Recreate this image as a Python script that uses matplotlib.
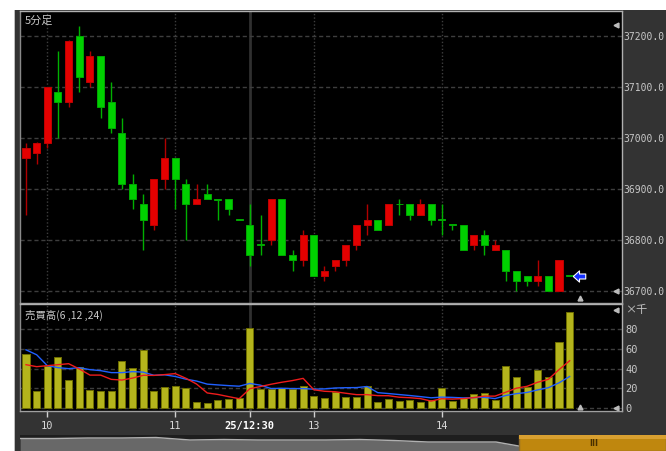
import matplotlib
matplotlib.use('Agg')
import matplotlib.pyplot as plt
from matplotlib.patches import Rectangle
import numpy as np

W, H = 666, 451

# ---- data (5-minute candles) ----
opens = [36960, 36970, 36990, 37090, 37070, 37200, 37110, 37160, 37070, 37010,
         36910, 36870, 36830, 36920, 36960, 36910, 36870, 36890, 36880, 36880,
         36840, 36830, 36792, 36800, 36880, 36770, 36760, 36810, 36730, 36750,
         36760, 36790, 36830, 36840, 36830, 36871, 36870, 36850, 36870, 36840,
         36830, 36830, 36790, 36810, 36780, 36780, 36740, 36730, 36720, 36730,
         36700, 36730]
highs = [36990, 36992, 37100, 37170, 37192, 37220, 37170, 37160, 37110, 37040,
         36930, 36890, 36920, 37000, 36960, 36920, 36910, 36910, 36880, 36880,
         36840, 36870, 36850, 36880, 36880, 36780, 36820, 36810, 36750, 36760,
         36790, 36830, 36870, 36840, 36870, 36880, 36870, 36880, 36870, 36870,
         36830, 36830, 36810, 36820, 36800, 36780, 36740, 36730, 36760, 36730,
         36760, 36730]
lows = [36850, 36950, 36980, 37000, 37060, 37090, 37100, 37040, 37010, 36900,
        36860, 36780, 36820, 36900, 36860, 36800, 36870, 36880, 36840, 36850,
        36840, 36750, 36770, 36790, 36770, 36740, 36750, 36730, 36720, 36740,
        36750, 36780, 36810, 36820, 36830, 36850, 36840, 36850, 36830, 36810,
        36820, 36780, 36780, 36770, 36780, 36720, 36700, 36710, 36710, 36700,
        36700, 36730]
closes = [36980, 36990, 37100, 37070, 37190, 37120, 37160, 37060, 37020, 36910,
          36880, 36840, 36920, 36960, 36920, 36870, 36880, 36880, 36879, 36860,
          36839, 36770, 36790, 36880, 36770, 36760, 36810, 36730, 36740, 36760,
          36790, 36830, 36840, 36820, 36870, 36870, 36850, 36870, 36840, 36839,
          36829, 36780, 36810, 36790, 36790, 36740, 36720, 36720, 36730, 36700,
          36760, 36730]
volumes = [55, 17, 43, 52, 29, 42, 18, 17, 17, 48,
           41, 59, 17, 22, 23, 20, 6, 5, 8, 9,
           10, 81, 19, 19, 20, 19, 23, 12, 10, 16,
           11, 11, 23, 6, 9, 7, 8, 6, 8, 20,
           7, 10, 14, 15, 8, 43, 32, 21, 39, 32,
           67, 97]
ma6 = [44, 42, 43, 44, 45, 39.7, 33.5, 33.5, 29.2, 28.5, 30.5, 33.3, 33.2, 34, 35,
       30.3, 24.5, 15.5, 14, 11.8, 9.7, 19.8, 22, 24.3, 26.3, 28, 30.2, 18.7, 17.2,
       16.7, 15.2, 13.8, 13.8, 12.8, 12.7, 11.2, 10.7, 9.8, 7.3, 9.7, 9.3, 9.8, 10.8,
       12.3, 12.3, 16.2, 20.3, 22.2, 26.3, 29.2, 39, 48]
ma12 = [59, 54, 43, 41, 40, 41, 39, 38, 36, 36, 37,
        36.5, 33.3, 33.8, 32.1, 29.4, 27.5, 24.4, 23.6, 22.9, 22.3,
        25.1, 23.3, 19.9, 20.2, 19.9, 19.9, 19.3, 19.6, 20.5, 20.8,
        20.9, 22, 15.8, 14.9, 13.9, 12.9, 11.8, 10.6, 11.3, 11,
        10.5, 10.8, 11.1, 9.8, 12.9, 14.8, 16, 18.6, 20.8, 25.7, 32.1]
price_ticks = [37200, 37100, 37000, 36900, 36800, 36700]
vol_ticks = [0, 20, 40, 60, 80]
hour_idx = [2, 14, 21, 27, 39]
hour_labels = ['10', '11', '25/12:30', '13', '14']
session_idx = 21
nav_heights = [12.5, 12.5, 13, 13, 13.5, 11, 11.5, 11, 11, 11,
               11.5, 10.5, 9, 9, 9, 3, 3, 3, 3, 3]

# ---- figure ----
fig = plt.figure(figsize=(W / 100, H / 100), dpi=100, facecolor='#333333')
fig.patches.append(Rectangle((0, 0), 14 / W, 1, transform=fig.transFigure,
                             facecolor='white', edgecolor='none', zorder=-5))
fig.patches.append(Rectangle((0, 1 - 10 / H), 1, 10 / H, transform=fig.transFigure,
                             facecolor='white', edgecolor='none', zorder=-5))
fig.patches.append(Rectangle((14 / W, 0), 1 / W, 1 - 10 / H, transform=fig.transFigure,
                             facecolor='#bdbdbd', edgecolor='none', zorder=-4))

x0 = 20 / W
wid = 602 / W
ax = fig.add_axes([x0, 1 - 303 / H, wid, 292 / H], facecolor='black')
ax2 = fig.add_axes([x0, 1 - 411 / H, wid, 107 / H], facecolor='black')
navax = fig.add_axes([x0, 0, 646 / W, 16 / H], facecolor='#1e1e1e')

n = len(opens)
idx = np.arange(n)
xlim = (-0.563, 55.91)

grid_c = '#3e3e3e'
for a in (ax, ax2):
    a.set_xlim(*xlim)
    for h in hour_idx:
        if h == session_idx:
            a.axvline(h, color='#303030', lw=2, zorder=0)
        else:
            a.axvline(h, color=grid_c, lw=1, ls=(0, (1, 1.5)), zorder=0)

# ---- candles ----
ax.set_ylim(36676.5, 37249)
for p in price_ticks:
    ax.axhline(p, color=grid_c, lw=1, ls=(0, (3, 2)), zorder=0)

for i in range(n):
    o, hi, lo, c = opens[i], highs[i], lows[i], closes[i]
    up = c > o
    body = '#e40000' if up else '#00d000'
    edge = '#c00000' if up else '#00a800'
    wick = '#b00000' if up else '#00b000'
    ax.vlines(i, lo, hi, color=wick, lw=1, zorder=2)
    hgt = max(abs(c - o), 1.5)
    ax.bar(i, hgt, bottom=min(o, c), width=0.66, color=body, edgecolor=edge,
           lw=0.7, zorder=3)

# current price arrow
arrow = [(-1, 0), (0, 0.9), (0, 0.4), (1, 0.4), (1, -0.4), (0, -0.4), (0, -0.9), (-1, 0)]
ax.plot([n - 1 + 0.9], [closes[-1]], marker=arrow, markersize=9,
        markerfacecolor='#1530ff', markeredgecolor='white', markeredgewidth=0.8,
        zorder=5, clip_on=False)

ax.set_xticks([])
ax.yaxis.tick_right()
ax.set_yticks(price_ticks)
ax.set_yticklabels([f'{p:.1f}' for p in price_ticks], family='DejaVu Sans Mono',
                   fontsize=7, color='#c8c8c8')
ax.tick_params(axis='y', length=0, pad=1.2)

ax.text(5 / 602, 1 - 9.5 / 292, '5分足', transform=ax.transAxes,
        family=['Noto Sans CJK JP', 'DejaVu Sans'], fontsize=8, color='#c8c8c8',
        va='center', ha='left')

# ---- volume ----
ax2.set_ylim(-2.7, 105.2)
for v in vol_ticks:
    ax2.axhline(v, color=grid_c, lw=1, ls=(0, (3, 2)), zorder=0)
ax2.bar(idx, volumes, width=0.66, color='#b4b41c', edgecolor='#6e6e00', lw=0.7,
        zorder=2)
ax2.plot(idx, ma6, color='#ee1c1c', lw=1, zorder=4)
ax2.plot(idx, ma12, color='#2060ff', lw=1, zorder=3)

ax2.yaxis.tick_right()
ax2.set_yticks(vol_ticks)
ax2.set_yticklabels([str(v) for v in vol_ticks], family='DejaVu Sans Mono',
                    fontsize=7.5, color='#c8c8c8')
ax2.tick_params(axis='y', length=0, pad=2.5)
ax2.set_xticks(hour_idx)
ax2.set_xticklabels(hour_labels, family='DejaVu Sans Mono', fontsize=7.5,
                    color='#d8d8d8')
for lab, txt in zip(ax2.get_xticklabels(), hour_labels):
    if '/' in txt:
        lab.set_fontweight('bold')
        lab.set_color('white')
ax2.tick_params(axis='x', direction='out', length=4, width=1, color='#d0d0d0', pad=3)

ax2.text(5 / 602, 1 - 11 / 107, '売買高(6 ,12 ,24)', transform=ax2.transAxes,
         family=['Noto Sans CJK JP', 'DejaVu Sans'], fontsize=7.5, color='#c8c8c8',
         va='center', ha='left')
fig.text(625 / W, 1 - 310 / H, '×千', family=['Noto Sans CJK JP', 'DejaVu Sans'],
         fontsize=8, color='#c8c8c8', va='center', ha='left')

# small marker triangles
tri_c = '#bcbcbc'
ax.plot([0.990], [0.952], marker='<', ms=3.5, color=tri_c, transform=ax.transAxes, clip_on=False)
ax.plot([0.990], [0.041], marker='<', ms=3.5, color=tri_c, transform=ax.transAxes, clip_on=False)
ax.plot([0.930], [0.017], marker='^', ms=3.5, color=tri_c, transform=ax.transAxes, clip_on=False)
ax2.plot([0.990], [0.944], marker='<', ms=3.5, color=tri_c, transform=ax2.transAxes, clip_on=False)
ax2.plot([0.990], [0.030], marker='<', ms=3.5, color=tri_c, transform=ax2.transAxes, clip_on=False)
ax2.plot([0.930], [0.033], marker='^', ms=3.5, color=tri_c, transform=ax2.transAxes, clip_on=False)

# spines
for a in (ax, ax2):
    a.spines['top'].set_color('#b0b0b0')
    a.spines['right'].set_color('#b0b0b0')
    a.spines['left'].set_color('#8a8a8a')
    a.spines['bottom'].set_color('#a0a0a0')
    for s in a.spines.values():
        s.set_linewidth(1)

# ---- navigator ----
nx = np.linspace(0, 1, len(nav_heights))
navax.set_xlim(0, 1)
navax.set_ylim(0, 16)
navax.fill_between(nx, 0, nav_heights, color='#686868', lw=0)
navax.plot(nx, nav_heights, color='#b0b0b0', lw=1)
t0 = (519 - 20) / 646
navax.add_patch(Rectangle((t0, 0), 1 - t0, 16, facecolor='#bf870e',
                          edgecolor='#8a6a30', lw=1, zorder=5))
navax.add_patch(Rectangle((t0, 12), 1 - t0, 4, facecolor='#d9a030',
                          edgecolor='none', zorder=6))
navax.text((594 - 20) / 646, 7, 'III', fontsize=6, color='#4a3000', weight='bold',
           ha='center', va='center', zorder=7)
navax.set_xticks([])
navax.set_yticks([])
for s in navax.spines.values():
    s.set_visible(False)

fig.savefig('out.png', dpi=100, facecolor=fig.get_facecolor())
